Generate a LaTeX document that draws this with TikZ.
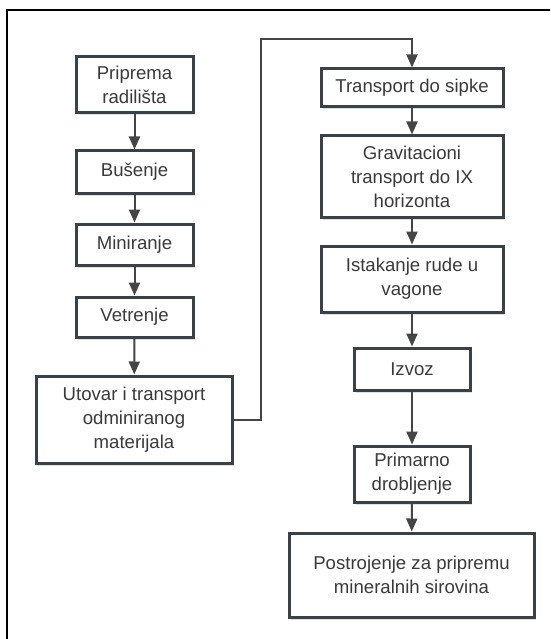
\documentclass[tikz,border=0pt]{standalone}
\usepackage{fontspec}
\setmainfont{Liberation Sans}
\usetikzlibrary{arrows.meta,shadows}
\definecolor{boxline}{HTML}{3B4247}
\definecolor{arrowc}{HTML}{454545}
\definecolor{txt}{HTML}{3A3A3A}
\tikzset{
  procbox/.style={draw=boxline, line width=3pt, fill=white, inner sep=0pt,
    align=center, text=txt, font=\fontsize{18.6}{24}\selectfont,
    drop shadow={shadow xshift=1.5pt, shadow yshift=-2.5pt, opacity=0.12, fill=black}},
  flow/.style={draw=arrowc, line width=2pt, -{Triangle[length=13pt,width=11pt]}},
  link/.style={draw=arrowc, line width=2pt}
}
\begin{document}
\begin{tikzpicture}[x=1pt,y=-1pt]
\useasboundingbox (0,0) rectangle (550,639);
\begin{scope}
\clip (0,0) rectangle (550,639);
\draw[line width=2.5pt, black] (7,10) rectangle (570,660);
\end{scope}
% left column
\node[procbox, minimum width=117pt, minimum height=56pt] (prip) at (134.5,85) {Priprema\\radilišta};
\node[procbox, minimum width=117pt, minimum height=42pt] (bus) at (134.5,172) {Bušenje};
\node[procbox, minimum width=117pt, minimum height=41pt] (min) at (134.5,244.5) {Miniranje};
\node[procbox, minimum width=117pt, minimum height=40pt] (vet) at (134.5,317) {Vetrenje};
\node[procbox, minimum width=196pt, minimum height=87pt] (uto) at (134,419.5) {Utovar i transport\\odminiranog\\materijala};
% right column
\node[procbox, minimum width=182pt, minimum height=38pt] (tra) at (412,88) {Transport do sipke};
\node[procbox, minimum width=182pt, minimum height=81pt] (gra) at (412,176.5) {Gravitacioni\\transport do IX\\horizonta};
\node[procbox, minimum width=182pt, minimum height=66pt] (ist) at (412,279) {Istakanje rude u\\vagone};
\node[procbox, minimum width=116pt, minimum height=42pt] (izv) at (412,369) {Izvoz};
\node[procbox, minimum width=116pt, minimum height=56pt] (pri) at (412,474) {Primarno\\drobljenje};
\node[procbox, minimum width=245pt, minimum height=84pt] (pos) at (411.5,575) {Postrojenje za pripremu\\mineralnih sirovina};
% connectors
\coordinate (c1) at (261,39);
\coordinate (c2) at (412,39);
\draw[flow] (prip) -- (bus);
\draw[flow] (bus) -- (min);
\draw[flow] (min) -- (vet);
\draw[flow] (vet) -- (uto);
\draw[flow] (uto.east) -| (c1) -- (c2) -- (tra.north);
\draw[flow] (tra) -- (gra);
\draw[flow] (gra) -- (ist);
\draw[flow] (ist) -- (izv);
\draw[flow] (izv) -- (pri);
\draw[flow] (pri) -- (pos);
\end{tikzpicture}
\end{document}
